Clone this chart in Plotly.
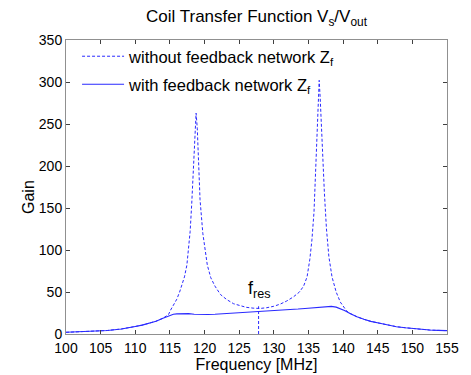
import plotly.graph_objects as go

# ---- data ----
freq_without = [100, 102, 104, 105, 106, 108, 109, 110, 111, 112, 113, 114, 114.8, 115.1, 115.5,
                116.0, 116.4, 116.75, 117.1, 117.45, 117.7, 117.92, 118.15, 118.4, 118.6, 118.78,
                118.95, 119.12, 119.35, 119.75, 120.1, 120.4, 120.9, 121.5, 122.3, 123.2, 124.2,
                125.1, 126.0, 127.0, 128.0, 129.0, 130.0, 130.9, 131.8, 132.8, 133.7, 134.3, 134.8,
                135.2, 135.5, 135.8, 135.95, 136.2, 136.4, 136.55, 136.7, 136.86, 137.05, 137.3,
                137.6, 137.95, 138.4, 139.0, 139.6, 140.1, 140.5, 141.0, 142.0, 143.0, 144.0, 145.3,
                146.5, 147.7, 149.0, 150.1, 151.3, 152.5, 153.7, 155.0]
gain_without = [2.0, 2.5, 3.2, 3.6, 4.2, 6.0, 7.2, 9.0, 10.6, 12.5, 15.2, 18.8, 23.2, 28.5, 34,
                41.5, 50, 58, 68, 82, 100, 122, 155, 200, 240, 263,
                245, 200, 160, 120, 97, 82, 67, 57, 47, 41, 36,
                33.5, 31.8, 30.8, 30.4, 31.3, 33.0, 35.5, 39, 44, 50, 57, 68,
                89, 112, 145, 175, 240, 285, 302, 280, 246, 210, 168,
                125, 92, 68, 50, 38, 32, 27.5, 24.5, 20.5, 17.5, 15.0, 12.8,
                10.6, 8.7, 7.4, 6.3, 5.4, 4.7, 4.3, 4.0]

freq_with = [100, 102, 104, 105, 106, 108, 109, 110, 111, 112, 113, 114, 114.8, 115.5, 116.0,
             116.8, 117.7, 118.5, 119.5, 120.5, 121.5, 122.5, 123.5, 124.5, 125.5, 126.5, 127.5,
             128.5, 129.5, 130.5, 131.5, 132.5, 133.5, 134.5, 135.5, 136.5, 137.5, 138.3, 139.0,
             139.6, 140.2, 141.0, 142.0, 143.0, 144.0, 145.3, 146.5, 147.7, 149.0, 150.1, 151.3,
             152.5, 153.7, 155.0]
gain_with = [2.0, 2.5, 3.2, 3.6, 4.2, 6.0, 7.2, 9.0, 10.6, 12.5, 15.2, 18.8, 21.8, 23.5, 24.0,
             24.4, 24.2, 23.6, 23.2, 23.2, 23.5, 24.0, 24.6, 25.0, 25.4, 25.7, 26.0,
             26.5, 27.4, 28.0, 28.5, 29.0, 29.7, 30.4, 31.2, 32.0, 32.7, 32.9, 32.0,
             30.4, 28.0, 24.5, 20.5, 17.5, 15.0, 12.8, 10.6, 8.7, 7.4, 6.3, 5.4,
             4.7, 4.3, 4.0]

fres_x = [127.8, 127.8]
fres_y = [0, 33]

x_ticks = [100, 105, 110, 115, 120, 125, 130, 135, 140, 145, 150, 155]
y_ticks = [0, 50, 100, 150, 200, 250, 300, 350]

FONT = "Liberation Sans, Arial, sans-serif"
BLUE = "#2a2aff"

# page body has an 8px margin, so the figure is 8px smaller and margins shifted
W, H = 463, 367
ML, MR, MT, MB = 58, 24, 32, 41
PLOT_H = H - MT - MB
PLOT_W = W - ML - MR

fig = go.Figure()
fig.add_trace(go.Scatter(x=freq_without, y=gain_without, mode="lines",
                         name="without feedback network Z<sub>f</sub>", legend="legend",
                         line=dict(color=BLUE, width=1, dash="3px,2px")))
fig.add_trace(go.Scatter(x=freq_with, y=gain_with, mode="lines",
                         name="with feedback network Z<sub>f</sub>", legend="legend2",
                         line=dict(color=BLUE, width=1.1)))
fig.add_trace(go.Scatter(x=fres_x, y=fres_y, mode="lines", showlegend=False,
                         line=dict(color=BLUE, width=1, dash="3px,2px")))

fig.add_annotation(x=128.0, y=37, xref="x", yref="y", text="f<sub>res</sub>",
                   showarrow=False, xanchor="center", yanchor="bottom",
                   font=dict(family=FONT, size=18, color="black"))

# y-axis title placed precisely
fig.add_annotation(x=(20 - ML) / PLOT_W, y=(H - MB - 189) / PLOT_H, xref="paper", yref="paper",
                   text="Gain", textangle=-90, showarrow=False,
                   xanchor="center", yanchor="middle",
                   font=dict(family=FONT, size=16, color="black"))

axis_common = dict(showgrid=False, zeroline=False, showline=True, linecolor="#909090",
                   linewidth=1, mirror="ticks", ticks="inside", ticklen=4, automargin=False,
                   tickcolor="#404040", tickfont=dict(family=FONT, size=14, color="black"))

fig.update_xaxes(range=[100, 155], tickvals=x_ticks, ticklabelstandoff=1,
                 title=dict(text="Frequency [MHz]", font=dict(family=FONT, size=16, color="black"),
                            standoff=4),
                 **axis_common)
fig.update_yaxes(range=[0, 350], tickvals=y_ticks, **axis_common)

legend_common = dict(xanchor="left", yanchor="top", bgcolor="rgba(0,0,0,0)", borderwidth=0,
                     itemwidth=42, font=dict(family=FONT, size=16.5, color="black"))

fig.update_layout(
    width=W, height=H,
    margin=dict(l=ML, r=MR, t=MT, b=MB, autoexpand=False),
    paper_bgcolor="white", plot_bgcolor="white",
    title=dict(text="Coil Transfer Function V<sub>s</sub>/V<sub>out</sub>",
               x=(ML + (W - MR)) / 2 / W, xanchor="center", y=1 - 8.5 / H, yanchor="middle",
               automargin=False,
               font=dict(family=FONT, size=17, color="black")),
    legend=dict(x=0.029, y=1 + 1 / PLOT_H, **legend_common),
    legend2=dict(x=0.029, y=1 - 27 / PLOT_H, **legend_common),
    showlegend=True,
)

fig.write_html("out.html")
